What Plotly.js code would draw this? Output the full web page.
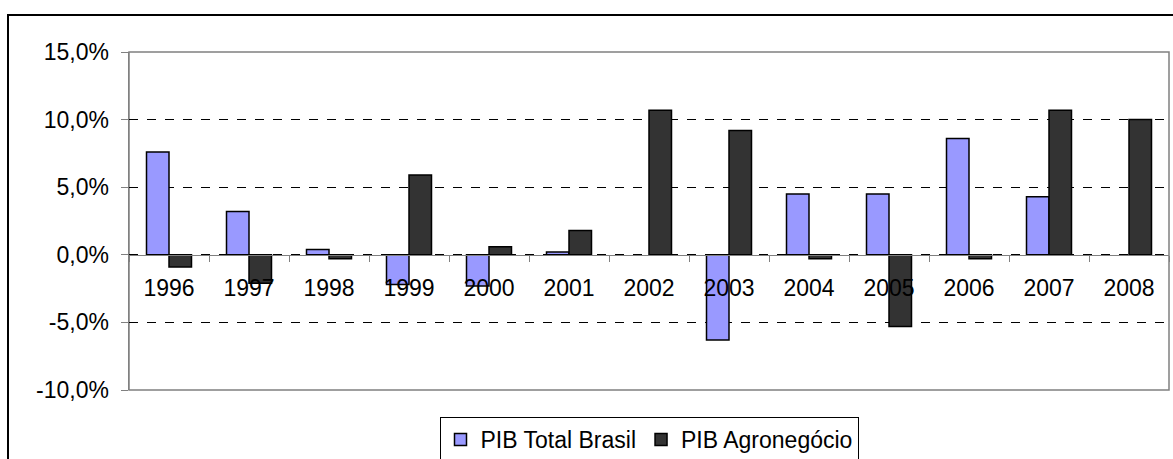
<!DOCTYPE html>
<html>
<head>
<meta charset="utf-8">
<script src="https://cdn.plot.ly/plotly-3.0.1.min.js"></script>
<style>
  html, body { margin:0; padding:0; background:#fff; }
  #frame { position:absolute; left:7px; top:14px; width:1166px; height:445px; border-left:2px solid #000; border-top:2px solid #000; box-sizing:border-box; }
  #chart { position:absolute; left:0; top:0; width:1173px; height:459px; }
</style>
</head>
<body>
<div id="frame"></div>
<div id="chart"></div>
<script>
const years = ['1996','1997','1998','1999','2000','2001','2002','2003','2004','2005','2006','2007','2008'];
const pibTotal = [7.6, 3.2, 0.4, -2.2, -2.3, 0.2, null, -6.3, 4.5, 4.5, 8.6, 4.3, null];
const pibAgro = [-0.9, -2.1, -0.3, 5.9, 0.6, 1.8, 10.7, 9.2, -0.3, -5.3, -0.3, 10.7, 10.0];
const seriesNames = ['PIB Total Brasil', 'PIB Agronegócio'];
const yTicks = [-10, -5, 0, 5, 10, 15];
const yTickLabels = ['-10,0%', '-5,0%', '0,0%', '5,0%', '10,0%', '15,0%'];

function mkFont(){ return {family: 'Liberation Sans, Arial, sans-serif', size: 23, color: '#000'}; }
const yMin = -10, yMax = 15;

const traces = [
  {type:'bar', name: seriesNames[0], x: years, y: pibTotal,
   marker:{color:'#9999FF', line:{color:'#000', width:1.5}}},
  {type:'bar', name: seriesNames[1], x: years, y: pibAgro,
   marker:{color:'#333333', line:{color:'#000', width:1.5}}}
];

const layout = {
  width: 1173, height: 459,
  margin: {l:129, r:4, t:52, b:69, pad:0, autoexpand:false},
  paper_bgcolor: 'rgba(0,0,0,0)',
  plot_bgcolor: '#fff',
  font: mkFont(),
  barmode: 'group',
  bargap: 0.4375,
  bargroupgap: 0,
  showlegend: true,
  legend: {orientation:'h', x:0.5, xanchor:'center', yref:'container', y:(459-417)/459, yanchor:'top',
           bordercolor:'#000', borderwidth:1, bgcolor:'#fff', font: mkFont(),
           itemwidth:30},
  xaxis: {type:'category', anchor:'free', position: (0 - yMin)/(yMax - yMin),
          showline:true, linecolor:'#808080', linewidth:1.5,
          ticks:'outside', tickson:'boundaries', ticklen:6, tickcolor:'#808080',
          showgrid:false, zeroline:false, tickfont: mkFont(), ticklabelstandoff: 12},
  yaxis: {range:[yMin, yMax], tickvals: yTicks, ticktext: yTickLabels,
          showline:true, linecolor:'#808080', linewidth:1.5,
          ticks:'outside', ticklen:7, tickcolor:'#808080',
          showgrid:true, gridcolor:'#000', griddash:'dash', gridwidth:1,
          zeroline:false, tickfont: mkFont(), ticklabelstandoff: 7},
  shapes: [{type:'rect', xref:'paper', yref:'paper', x0:0, x1:1, y0:0, y1:1,
            line:{color:'#808080', width:1.5}, layer:'below'}]
};

Plotly.newPlot('chart', traces, layout, {displayModeBar:false, staticPlot:true});
</script>
</body>
</html>
